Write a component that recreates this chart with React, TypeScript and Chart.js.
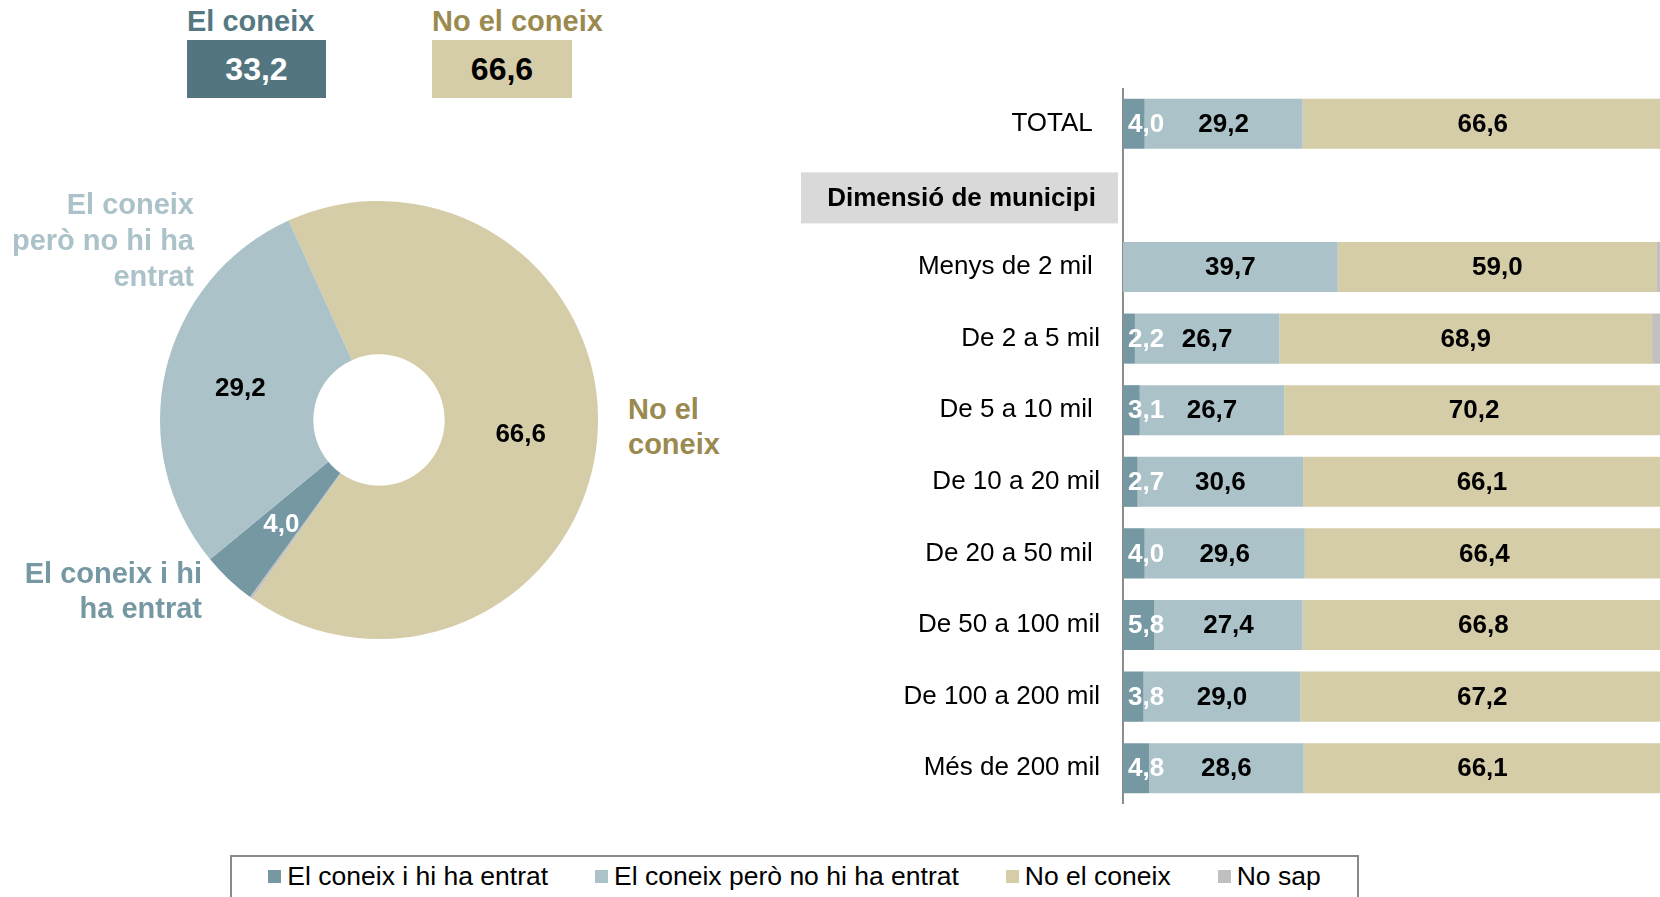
import React, { useEffect, useRef } from "react";
import { Chart, registerables } from "chart.js";

Chart.register(...registerables);

// ---------- data ----------
const categories = [
  "TOTAL ",
  "Dimensió de municipi",
  "Menys de 2 mil ",
  "De 2 a 5 mil",
  "De 5 a 10 mil ",
  "De 10 a 20 mil",
  "De 20 a 50 mil ",
  "De 50 a 100 mil",
  "De 100 a 200 mil",
  "Més de 200 mil",
];
const headerIndex = 1;

const seriesNames = [
  "El coneix i hi ha entrat",
  "El coneix però no hi ha entrat",
  "No el coneix",
  "No sap",
];
const seriesColors = ["#7598a3", "#abc2c9", "#d5cca8", "#c0c0c0"];

const enteredValues = [4.0, null, 0, 2.2, 3.1, 2.7, 4.0, 5.8, 3.8, 4.8];
const notEnteredValues = [29.2, null, 39.7, 26.7, 26.7, 30.6, 29.6, 27.4, 29.0, 28.6];
const unknownValues = [66.6, null, 59.0, 68.9, 70.2, 66.1, 66.4, 66.8, 67.2, 66.1];
const noSapValues = [0.2, null, 1.3, 2.2, 0, 0.6, 0, 0, 0, 0.5];

const summaryLabels = ["El coneix", "No el coneix"];
const summaryValues = [33.2, 66.6];

// doughnut (TOTAL row), drawn clockwise: No el coneix, No sap, hi ha entrat, no hi ha entrat
const donutValues = [unknownValues[0], noSapValues[0], enteredValues[0], notEnteredValues[0]];
const donutColors = [seriesColors[2], seriesColors[3], seriesColors[0], seriesColors[1]];
const donutLabelColors = ["#000", null, "#fff", "#000"];

const FONT = '"Liberation Sans", Arial, sans-serif';
const fmt = (v: number) => v.toFixed(1).replace(".", ",");

// ---------- plugins ----------
const barLabelPlugin = {
  id: "barLabels",
  afterDatasetsDraw(chart: any) {
    const ctx = chart.ctx;
    ctx.save();
    ctx.font = `bold 26px ${FONT}`;
    ctx.textBaseline = "middle";
    ctx.textAlign = "center";
    chart.data.datasets.forEach((ds: any, di: number) => {
      if (di === 3) return;
      const meta = chart.getDatasetMeta(di);
      meta.data.forEach((el: any, i: number) => {
        const v = ds.data[i];
        if (v == null || v === 0) return;
        const p = el.getProps(["x", "y", "base"], true);
        const left = Math.min(p.x, p.base);
        const right = Math.max(p.x, p.base);
        const text = fmt(v);
        const w = ctx.measureText(text).width;
        let cx = (left + right) / 2;
        if (di === 0) cx = Math.max(cx, left + w / 2 + 5);
        ctx.fillStyle = di === 0 ? "#ffffff" : "#000000";
        ctx.fillText(text, cx, p.y + 1);
      });
    });
    // section header row
    const yc = chart.scales.y.getPixelForValue(headerIndex) + 2;
    const x0 = 41;
    const x1 = chart.chartArea.left - 5;
    ctx.fillStyle = "#d9d9d9";
    ctx.fillRect(x0, yc - 25, x1 - x0, 51);
    ctx.fillStyle = "#000";
    ctx.fillText(categories[headerIndex], (x0 + x1) / 2 + 2, yc + 1);
    ctx.restore();
  },
};

const donutLabelPlugin = {
  id: "donutLabels",
  afterDatasetsDraw(chart: any) {
    const ctx = chart.ctx;
    ctx.save();
    ctx.font = `bold 26px ${FONT}`;
    ctx.textBaseline = "middle";
    ctx.textAlign = "center";
    const meta = chart.getDatasetMeta(0);
    meta.data.forEach((el: any, i: number) => {
      const c = donutLabelColors[i];
      if (!c) return;
      const pos = el.tooltipPosition(true);
      ctx.fillStyle = c;
      ctx.fillText(fmt(donutValues[i]), pos.x, pos.y + 1);
    });
    ctx.restore();
  },
};

function BarChart() {
  const ref = useRef<HTMLCanvasElement>(null);
  useEffect(() => {
    const data = [enteredValues, notEnteredValues, unknownValues, noSapValues];
    const chart = new Chart(ref.current!, {
      type: "bar",
      data: {
        labels: categories,
        datasets: data.map((d, i) => ({
          label: seriesNames[i],
          data: d as any,
          backgroundColor: seriesColors[i],
          borderWidth: 0,
          barPercentage: 0.7,
          categoryPercentage: 1,
        })),
      },
      options: {
        indexAxis: "y",
        animation: false,
        responsive: false,
        events: [],
        layout: { padding: 0 },
        plugins: { legend: { display: false }, tooltip: { enabled: false } },
        scales: {
          x: { stacked: true, min: 0, max: 100, display: false },
          y: {
            stacked: true,
            afterFit: (s: any) => {
              s.width = 363;
              s.paddingTop = 0;
              s.paddingBottom = 0;
            },
            grid: { display: false, drawTicks: false },
            border: { display: true, color: "#8c8c8c", width: 2 },
            ticks: {
              padding: 23,
              color: "#000",
              font: { family: FONT, size: 26 },
              callback: (_v: any, i: number) => (i === headerIndex ? "" : categories[i]),
            },
          },
        },
      },
      plugins: [barLabelPlugin],
    });
    return () => chart.destroy();
  }, []);
  return (
    <canvas
      ref={ref}
      width={904}
      height={716}
      style={{ position: "absolute", left: 760, top: 88, width: 904, height: 716 }}
    />
  );
}

function DonutChart() {
  const ref = useRef<HTMLCanvasElement>(null);
  useEffect(() => {
    const chart = new Chart(ref.current!, {
      type: "doughnut",
      data: {
        labels: [seriesNames[2], seriesNames[3], seriesNames[0], seriesNames[1]],
        datasets: [
          {
            data: donutValues,
            backgroundColor: donutColors,
            borderWidth: 0,
            hoverBorderWidth: 0,
            hoverOffset: 0,
          },
        ],
      },
      options: {
        animation: false,
        responsive: false,
        events: [],
        cutout: "30%",
        rotation: -24.4,
        layout: { padding: 0 },
        plugins: { legend: { display: false }, tooltip: { enabled: false } },
      },
      plugins: [donutLabelPlugin],
    });
    return () => chart.destroy();
  }, []);
  return (
    <canvas
      ref={ref}
      width={438}
      height={438}
      style={{ position: "absolute", left: 160, top: 201, width: 438, height: 438 }}
    />
  );
}

const boldText: React.CSSProperties = {
  position: "absolute",
  fontFamily: FONT,
  fontWeight: "bold",
  fontSize: 29,
  lineHeight: "36px",
  whiteSpace: "nowrap",
};

export default function App() {
  return (
    <div
      style={{
        position: "absolute",
        left: 0,
        top: 0,
        width: 1660,
        height: 897,
        overflow: "hidden",
        background: "#fff",
        fontFamily: FONT,
      }}
    >
      {/* summary boxes */}
      <div style={{ ...boldText, left: 187, top: 3, color: "#557883" }}>{summaryLabels[0]}</div>
      <div style={{ ...boldText, left: 432, top: 3, color: "#9b8a4f" }}>{summaryLabels[1]}</div>
      <div
        style={{
          position: "absolute",
          left: 187,
          top: 40,
          width: 139,
          height: 58,
          background: "#527580",
          color: "#fff",
          fontWeight: "bold",
          fontSize: 32,
          lineHeight: "58px",
          textAlign: "center",
        }}
      >
        {fmt(summaryValues[0])}
      </div>
      <div
        style={{
          position: "absolute",
          left: 432,
          top: 40,
          width: 140,
          height: 58,
          background: "#d5cca8",
          color: "#000",
          fontWeight: "bold",
          fontSize: 32,
          lineHeight: "58px",
          textAlign: "center",
        }}
      >
        {fmt(summaryValues[1])}
      </div>

      <DonutChart />

      {/* donut outer labels */}
      <div style={{ ...boldText, right: 1660 - 194, top: 186, color: "#abc2c9", textAlign: "right" }}>
        El coneix
        <br />
        però no hi ha
        <br />
        entrat
      </div>
      <div
        style={{ ...boldText, right: 1660 - 202, top: 556, lineHeight: "35px", color: "#7598a3", textAlign: "right" }}
      >
        El coneix i hi
        <br />
        ha entrat
      </div>
      <div style={{ ...boldText, left: 628, top: 392, lineHeight: "35px", color: "#9b8a4f" }}>
        No el
        <br />
        coneix
      </div>

      <BarChart />

      {/* legend */}
      <div
        style={{
          position: "absolute",
          left: 230,
          top: 855,
          width: 1129,
          height: 60,
          border: "2px solid #8a8a8a",
          display: "flex",
          justifyContent: "center",
          alignItems: "flex-start",
          paddingTop: 4,
          boxSizing: "border-box",
          gap: 47,
          fontSize: 26.5,
          lineHeight: "30px",
          color: "#000",
        }}
      >
        {seriesNames.map((n, i) => (
          <div key={n} style={{ display: "flex", alignItems: "center", whiteSpace: "nowrap" }}>
            <span
              style={{ display: "inline-block", width: 13, height: 13, background: seriesColors[i], marginRight: 6 }}
            />
            {n}
          </div>
        ))}
      </div>
    </div>
  );
}
